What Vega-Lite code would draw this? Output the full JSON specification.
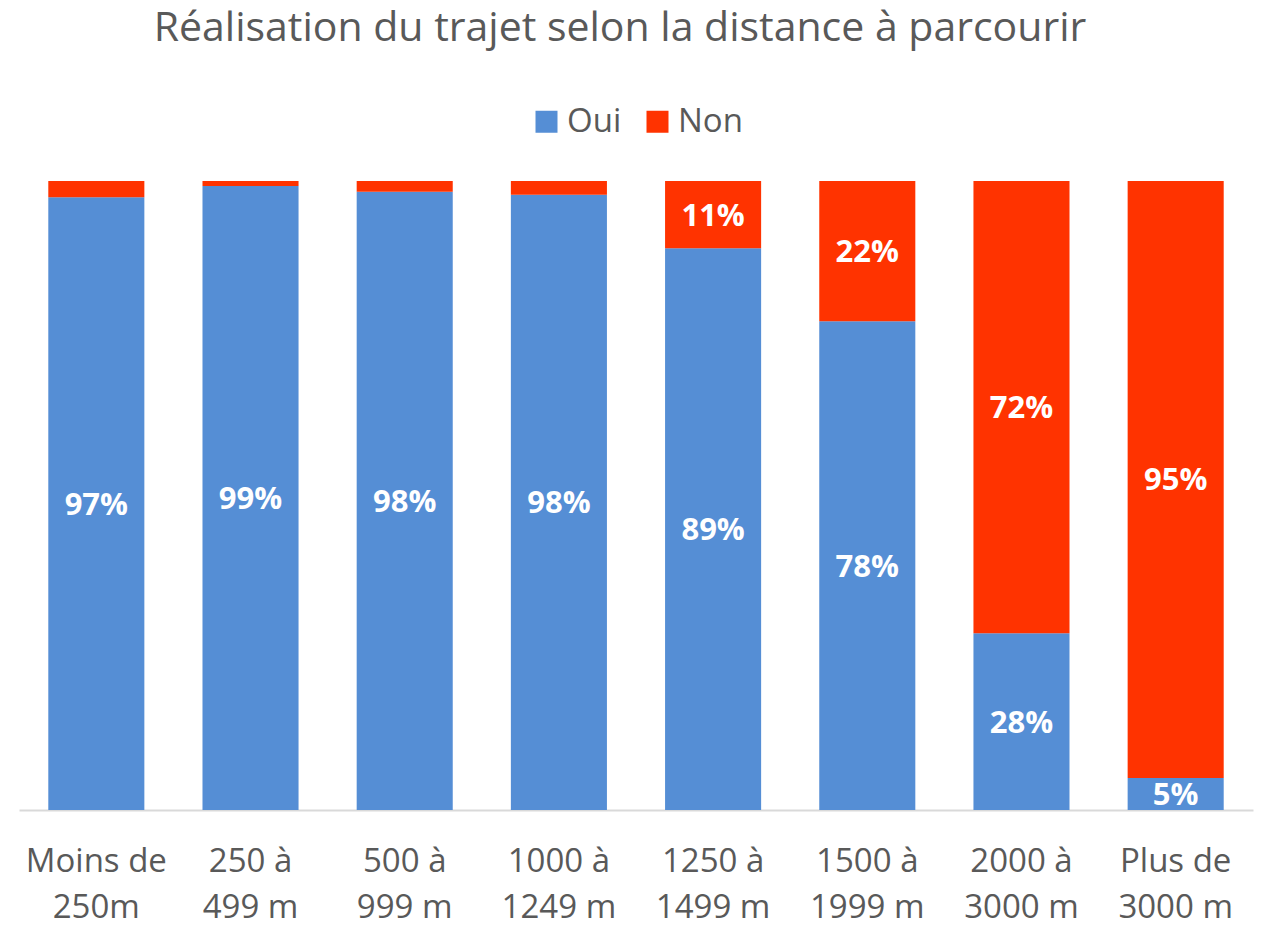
{
  "$schema": "https://vega.github.io/schema/vega-lite/v6.json",
  "width": 1234,
  "height": 629,
  "autosize": {"type": "none"},
  "padding": {"left": 19, "top": 181, "right": 8, "bottom": 117},
  "background": "white",
  "config": {"font": "Open Sans", "view": {"stroke": null}},
  "title": {
    "text": "Réalisation du trajet selon la distance à parcourir",
    "fontSize": 41,
    "font": "Open Sans",
    "fontWeight": "normal",
    "color": "#595959",
    "anchor": "middle",
    "frame": "group",
    "baseline": "alphabetic",
    "offset": 23,
    "dx": -16
  },
  "data": {
    "values": [
      {"cat": "Moins de\n250m", "reponse": "Oui", "value": 0.974},
      {"cat": "Moins de\n250m", "reponse": "Non", "value": 0.026},
      {"cat": "250 à\n499 m", "reponse": "Oui", "value": 0.992},
      {"cat": "250 à\n499 m", "reponse": "Non", "value": 0.008},
      {"cat": "500 à\n999 m", "reponse": "Oui", "value": 0.983},
      {"cat": "500 à\n999 m", "reponse": "Non", "value": 0.017},
      {"cat": "1000 à\n1249 m", "reponse": "Oui", "value": 0.978},
      {"cat": "1000 à\n1249 m", "reponse": "Non", "value": 0.022},
      {"cat": "1250 à\n1499 m", "reponse": "Oui", "value": 0.893},
      {"cat": "1250 à\n1499 m", "reponse": "Non", "value": 0.107},
      {"cat": "1500 à\n1999 m", "reponse": "Oui", "value": 0.777},
      {"cat": "1500 à\n1999 m", "reponse": "Non", "value": 0.223},
      {"cat": "2000 à\n3000 m", "reponse": "Oui", "value": 0.281},
      {"cat": "2000 à\n3000 m", "reponse": "Non", "value": 0.719},
      {"cat": "Plus de\n3000 m", "reponse": "Oui", "value": 0.051},
      {"cat": "Plus de\n3000 m", "reponse": "Non", "value": 0.949}
    ]
  },
  "transform": [
    {"calculate": "datum.reponse === 'Oui' ? 0 : 1", "as": "ord"}
  ],
  "encoding": {
    "x": {
      "field": "cat",
      "type": "nominal",
      "sort": null,
      "scale": {"paddingInner": 0.377, "paddingOuter": 0.19},
      "axis": {
        "title": null,
        "labelAngle": 0,
        "labelExpr": "split(datum.label, '\\n')",
        "labelFontSize": 33,
        "labelLineHeight": 46,
        "labelColor": "#595959",
        "labelPadding": 35,
        "ticks": false,
        "domainColor": "#D9D9D9",
        "domainWidth": 2
      }
    }
  },
  "layer": [
    {
      "mark": {"type": "bar"},
      "encoding": {
        "y": {
          "field": "value",
          "type": "quantitative",
          "stack": "normalize",
          "scale": {"domain": [0, 1], "nice": false},
          "axis": null
        },
        "order": {"field": "ord", "type": "quantitative"},
        "color": {
          "field": "reponse",
          "type": "nominal",
          "sort": ["Oui", "Non"],
          "scale": {"domain": ["Oui", "Non"], "range": ["#558ED5", "#FF3300"]},
          "legend": {
            "title": null,
            "orient": "none",
            "legendX": 511,
            "legendY": -76,
            "direction": "horizontal",
            "symbolType": "square",
            "symbolSize": 484,
            "symbolStrokeWidth": 0,
            "labelFontSize": 33,
            "labelColor": "#595959",
            "labelOffset": 4,
            "columnPadding": 19
          }
        }
      }
    },
    {
      "transform": [
        {"stack": "value", "groupby": ["cat"], "sort": [{"field": "ord"}], "offset": "normalize", "as": ["y0", "y1"]},
        {"calculate": "(datum.y0 + datum.y1) / 2", "as": "mid"},
        {"filter": "datum.value >= 0.045"}
      ],
      "mark": {"type": "text", "color": "white", "fontWeight": "bold", "fontSize": 31, "baseline": "middle", "dy": 2},
      "encoding": {
        "y": {"field": "mid", "type": "quantitative", "scale": {"domain": [0, 1], "nice": false}, "axis": null},
        "text": {"field": "value", "type": "quantitative", "format": ".0%"}
      }
    }
  ]
}
